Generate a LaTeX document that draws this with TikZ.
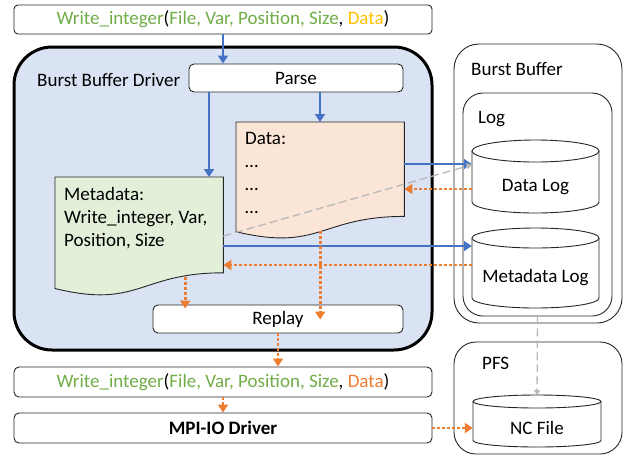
\documentclass[tikz,border=0pt]{standalone}
\usepackage{fontspec}
\setmainfont{Carlito}
\usetikzlibrary{arrows.meta,calc}
\definecolor{bblue}{HTML}{4472C4}
\definecolor{borange}{HTML}{ED7D31}
\definecolor{bgreen}{HTML}{70AD47}
\definecolor{bgold}{HTML}{FFC000}
\definecolor{drvfill}{HTML}{DAE3F3}
\definecolor{datafill}{HTML}{FBE5D6}
\definecolor{metafill}{HTML}{E2F0D9}
\begin{document}
\begin{tikzpicture}[x=1pt,y=1pt,font=\fontsize{19}{23}\selectfont,
  box/.style={draw=black!85,line width=0.9pt,rounded corners=5pt,fill=white,inner sep=0pt},
  frame/.style={draw=black!85,line width=0.9pt},
  area/.style={inner sep=0pt,minimum width=#1},
  bluearr/.style={draw=bblue,line width=2.6pt,-{Triangle[length=8pt,width=10pt]}},
  orarr/.style={draw=borange,line width=2.8pt,dash pattern=on 2.8pt off 2.2pt,-{Triangle[length=8pt,width=10pt]}},
  grayarr/.style={draw=black!28,line width=1.3pt,dash pattern=on 8pt off 4pt,-{Triangle[length=5pt,width=6pt]}},
  lbl/.style={inner sep=0pt,anchor=base west}]
\useasboundingbox (0,0) rectangle (626,-459);

% ---- driver side ----
\node[box,rounded corners=4pt,minimum width=418,minimum height=29] (topcall) at (223,-19.5)
  {\textcolor{bgreen}{Write\_integer}(\textcolor{bgreen}{File, Var, Position, Size}, \textcolor{bgold}{Data})};
\node[draw=black,line width=3pt,fill=drvfill,rounded corners=38pt,minimum width=418,minimum height=303,inner sep=0pt] (driver) at (223,-198.5) {};
\node[lbl] (drvlabel) at (37,-86) {Burst Buffer Driver};
\node[box,minimum width=214,minimum height=28] (parse) at (296,-78) {Parse};

% data document
\node[area=168,minimum height=94,anchor=north west] (datab) at (236,-122) {};
\draw[frame,fill=datafill] (datab.north west) -- (datab.north east) -- (datab.south east)
  .. controls (datab.south) and ($(datab.south)+(0,-35.5)$) .. ($(datab.south west)+(0,-15.3)$) -- cycle;
\node[inner sep=0pt,anchor=north west,align=left] (datatext) at (245,-132) {Data:\\…\\…\\…};

% metadata document
\node[area=168,minimum height=95.4,anchor=north west] (meta) at (55,-177) {};
\draw[frame,fill=metafill] (meta.north west) -- (meta.north east) -- (meta.south east)
  .. controls (meta.south) and ($(meta.south)+(0,-36.3)$) .. ($(meta.south west)+(0,-15.7)$) -- cycle;
\node[inner sep=0pt,anchor=north west,align=left] (metatext) at (64,-187) {Metadata:\\Write\_integer, Var,\\Position, Size};

\node[box,minimum width=250,minimum height=28] (replay) at (278,-319) {Replay};

\node[box,minimum width=418,minimum height=30] (botcall) at (223,-382)
  {\textcolor{bgreen}{Write\_integer}(\textcolor{bgreen}{File, Var, Position, Size}, \textcolor{borange}{Data})};
\node[box,minimum width=418,minimum height=30,font=\fontsize{19}{23}\selectfont\bfseries] (mpi) at (223,-428) {MPI-IO Driver};

% ---- storage side ----
\node[frame,rounded corners=25pt,minimum width=168,minimum height=279,inner sep=0pt] (bb) at (538,-183.5) {};
\node[lbl] (bblabel) at (471,-75) {Burst Buffer};
\node[frame,rounded corners=20pt,minimum width=149,minimum height=223,inner sep=0pt] (logbox) at (537.5,-204.5) {};
\node[lbl] (loglabel) at (478,-123) {Log};

% Data Log cylinder
\draw[frame,fill=white] (472,-151) -- (472,-202) arc[start angle=180,end angle=360,x radius=63.5,y radius=11] -- (599,-151);
\draw[frame,fill=white] (535.5,-151) ellipse[x radius=63.5,y radius=11];
\node[area=127,minimum height=51] (dlog) at (535.5,-187.5) {Data Log};

% Metadata Log cylinder
\draw[frame,fill=white] (472,-238) -- (472,-298) arc[start angle=180,end angle=360,x radius=63.5,y radius=10] -- (599,-238);
\draw[frame,fill=white] (535.5,-238) ellipse[x radius=63.5,y radius=10];
\node[area=127,minimum height=60] (mlog) at (535.5,-278) {Metadata Log};

\node[frame,rounded corners=22pt,minimum width=168,minimum height=112,inner sep=0pt] (pfs) at (538,-398) {};
\node[lbl] (pfslabel) at (482,-369) {PFS};

% NC File cylinder
\draw[frame,fill=white] (473,-401.5) -- (473,-440.5) arc[start angle=180,end angle=360,x radius=64,y radius=6.5] -- (601,-401.5);
\draw[frame,fill=white] (537,-401.5) ellipse[x radius=64,y radius=6.5];
\node[area=128,minimum height=39] (nc) at (537,-427.5) {NC File};
\coordinate (nctop) at (537,-395);

% ---- connectors ----
\draw[bluearr] (topcall.south) -- (topcall.south |- parse.north);
\draw[bluearr] ([xshift=-87pt]parse.south) -- ([xshift=-87pt]parse.south |- meta.north);
\draw[bluearr] ([xshift=24pt]parse.south) -- ([xshift=24pt]parse.south |- datab.north);

\draw[bluearr] ([yshift=-42pt]datab.north east) -- ([yshift=-42pt]datab.north east -| dlog.west);
\draw[orarr] ([yshift=-67pt]datab.north east -| dlog.west) -- ([yshift=-67pt]datab.north east);
\draw[grayarr] ([yshift=-59pt]meta.north east) -- ([yshift=-3pt]dlog.north west);
\draw[bluearr] ([yshift=-69pt]meta.north east) -- ([yshift=-69pt]meta.north east -| mlog.west);
\draw[orarr] ([yshift=-88pt]meta.north east -| mlog.west) -- ([yshift=-88pt]meta.north east);

\draw[orarr] ([shift={(46,-4)}]meta.south) -- ([shift={(46,-4)}]meta.south |- replay.north);
\draw[orarr] ([yshift=-15pt]datab.south) -- ([yshift=-15pt]datab.south |- replay.north);
\draw[orarr] (replay.south) -- (replay.south |- botcall.north);
\draw[orarr] (botcall.south) -- (mpi.north);
\draw[orarr] (mpi.east) -- (mpi.east -| nc.west);
\draw[grayarr] (logbox.south) -- (nctop);
\end{tikzpicture}
\end{document}
